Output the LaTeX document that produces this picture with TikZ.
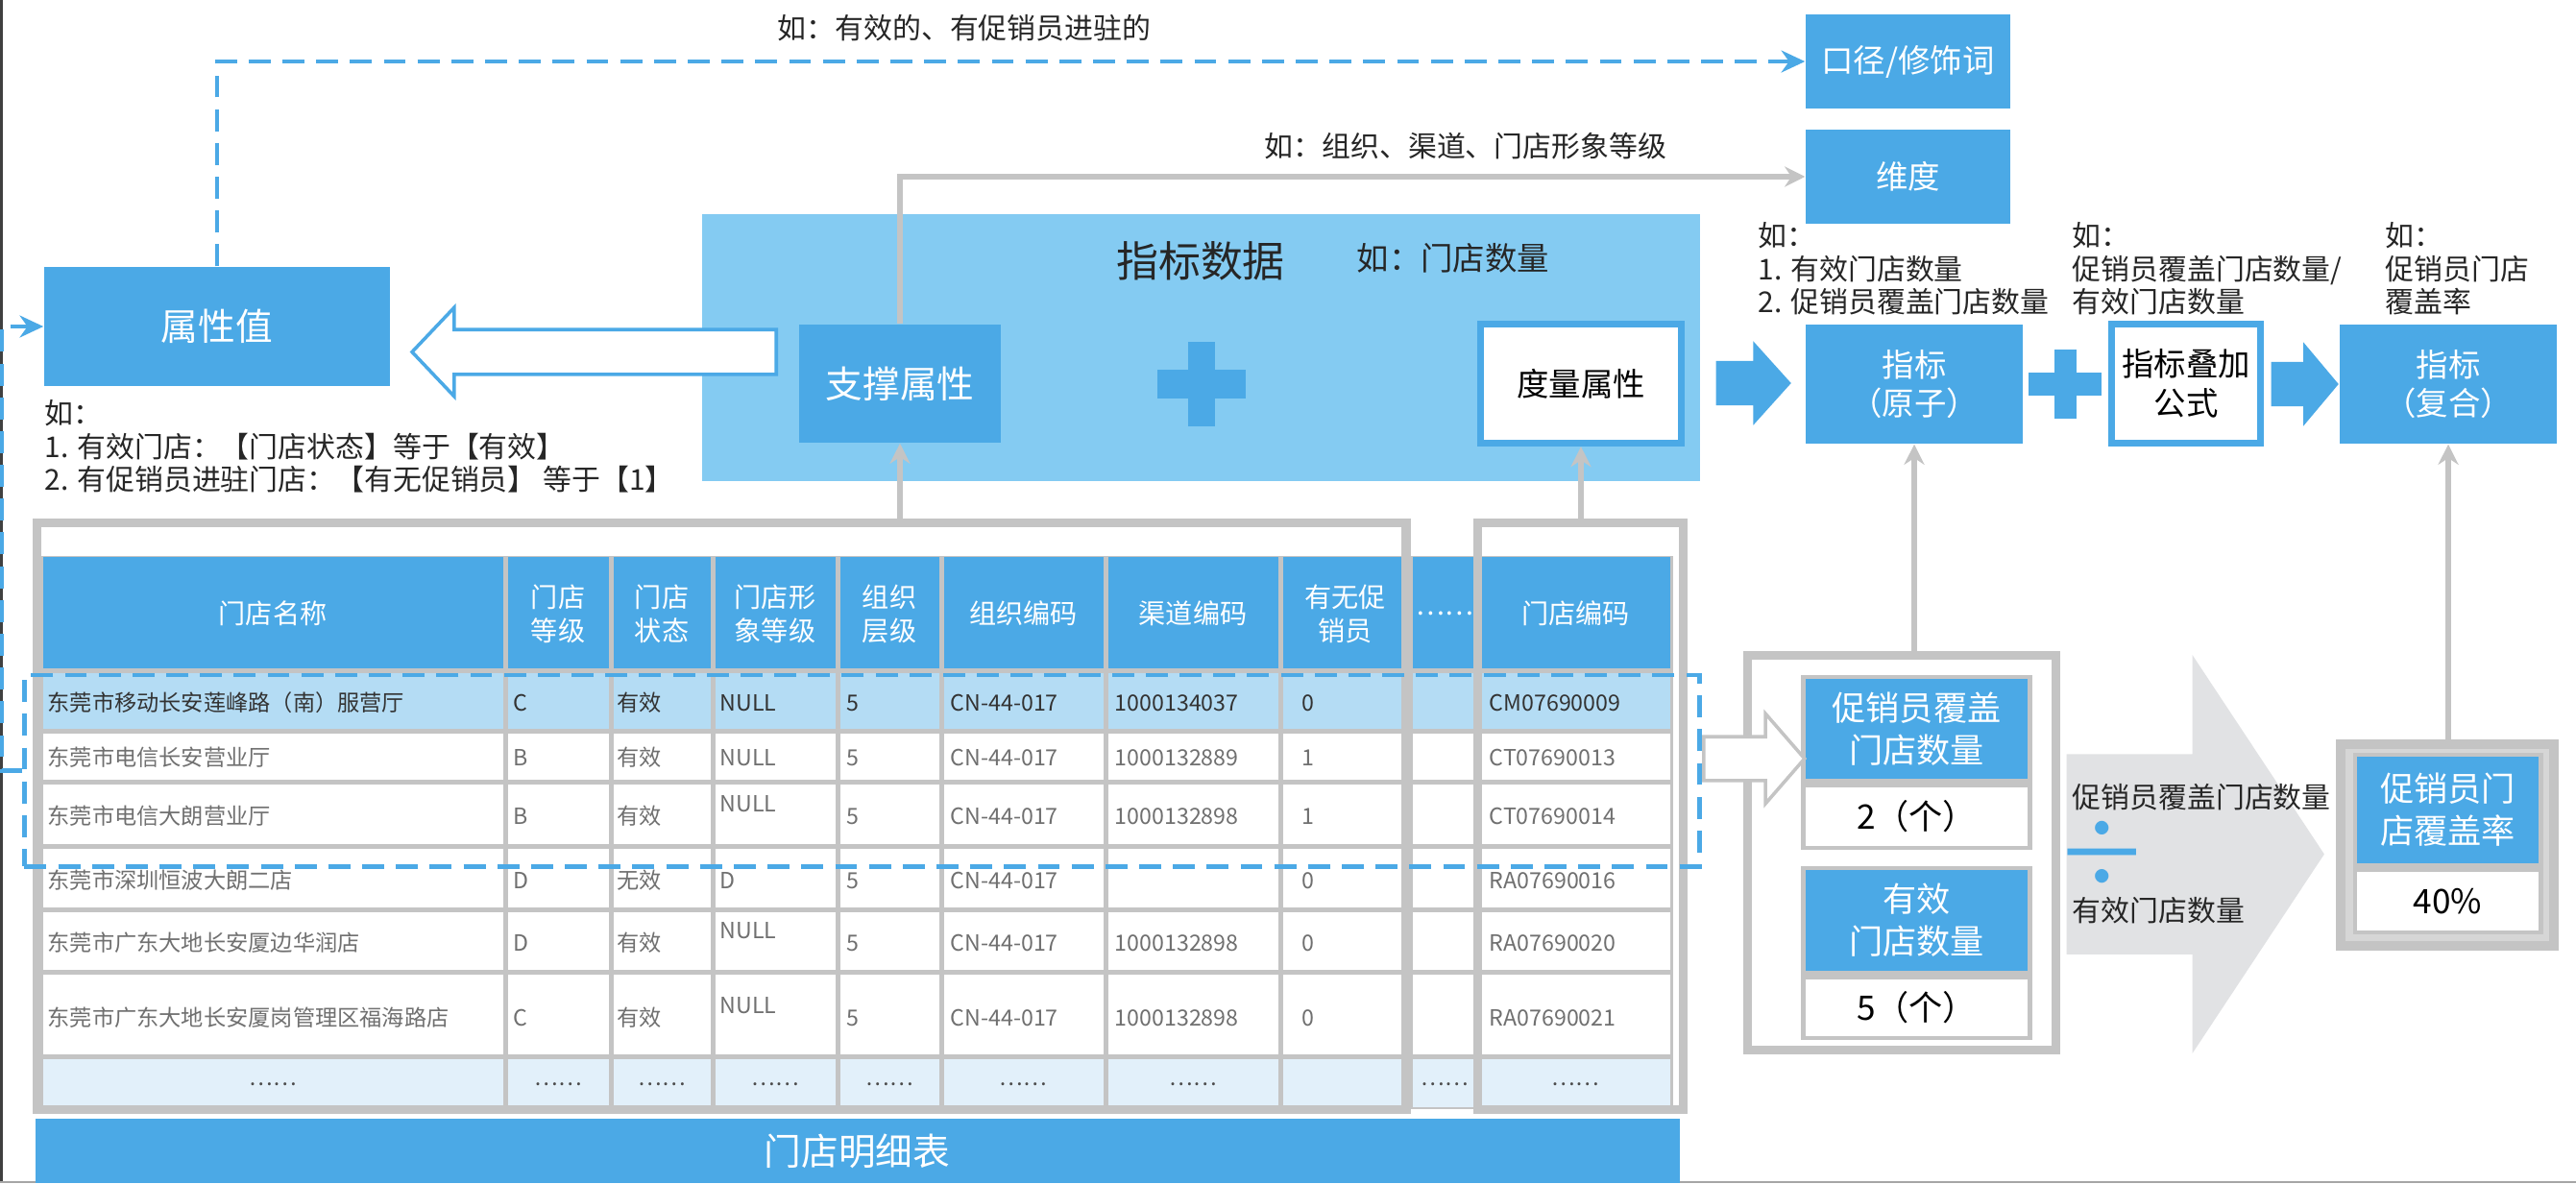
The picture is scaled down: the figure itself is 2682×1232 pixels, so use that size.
\documentclass[tikz,border=0pt]{standalone}
\usepackage{fontspec}
\setmainfont{Noto Sans CJK SC}
\usetikzlibrary{positioning, arrows.meta, shapes.arrows}

\definecolor{mainblue}{HTML}{4BA9E6}
\definecolor{paleblue}{HTML}{84CBF2}
\definecolor{rowblue}{HTML}{B4DCF4}
\definecolor{dotblue}{HTML}{E2F0FA}
\definecolor{framegray}{HTML}{C4C4C4}
\definecolor{arrowgray}{HTML}{E1E2E4}
\definecolor{cellgray}{HTML}{707070}

\begin{document}
\begin{tikzpicture}[
    x=0.01cm, y=-0.01cm, >=Stealth,
    bluebox/.style={rectangle, fill=mainblue, text=white, inner sep=0pt,
                    align=center, font=\fontsize{9.5}{11.5}\selectfont},
    whitebox/.style={rectangle, fill=white, draw=mainblue, line width=2pt,
                     inner sep=0pt, align=center, font=\fontsize{9.5}{11.5}\selectfont},
    countbox/.style={rectangle, fill=mainblue, text=white, draw=framegray,
                     line width=1.4pt, minimum width=2.35cm, inner sep=0pt,
                     align=center, font=\fontsize{10}{12.5}\selectfont},
    valuebox/.style={countbox, fill=white, text=black},
    graybox/.style={rectangle, draw=framegray, line width=2.6pt, inner sep=0pt},
    selbox/.style={rectangle, draw=mainblue, line width=1.4pt,
                   dash pattern=on 6.5pt off 3.5pt, inner sep=0pt},
    note/.style={inner sep=0pt, align=left, text=black!85,
                 font=\fontsize{8.5}{9.8}\selectfont},
    headcell/.style={inner sep=0pt, align=center, text=white,
                     font=\fontsize{8}{10}\selectfont},
    cell/.style={inner sep=0pt, anchor=west, text=cellgray,
                 font=\fontsize{6.6}{8}\selectfont},
    blockarrow/.style={single arrow, inner xsep=0pt, single arrow head indent=0pt, anchor=tail},
    dashline/.style={draw=mainblue, line width=1.4pt, dash pattern=on 6.5pt off 3.5pt,
                     -{Stealth[length=7pt, width=6.5pt]}},
    grayline/.style={draw=framegray, line width=1.8pt, -{Stealth[length=6pt, width=6pt]}},
    plussign/.pic={\fill[mainblue] (-46,-15) rectangle (46,15);
                   \fill[mainblue] (-14,-44) rectangle (14,44);}
]
  \useasboundingbox (0,0) rectangle (2682,1232);
  \fill[white] (0,0) rectangle (2682,1232);
  \draw[black!75, line width=1pt] (1,0) -- (1,1232);
  \draw[black!35, line width=0.6pt] (0,1231) -- (2682,1231);

  % attribute data block
  \node[bluebox, minimum width=3.6cm, minimum height=1.24cm,
        font=\fontsize{11}{13}\selectfont] (attr) at (226,340) {属性值};
  \node[note, anchor=west] (attrnote) at (46,465)
       {如：\\1. 有效门店：【门店状态】等于【有效】\\2. 有促销员进驻门店：【有无促销员】 等于【1】};
  \node[rectangle, fill=paleblue, minimum width=10.39cm, minimum height=2.78cm] (metric) at (1250.5,362) {};
  \node[inner sep=0pt, text=black!85, font=\fontsize{12.5}{14}\selectfont] (metrictitle) at (1250,272) {指标数据};
  \node[note, anchor=west, font=\fontsize{9.5}{11}\selectfont] (metricnote) at (1412,269) {如：门店数量};
  \node[bluebox, minimum width=2.1cm, minimum height=1.23cm,
        font=\fontsize{11}{13}\selectfont] (support) at (937,399.5) {支撑属性};
  \node[whitebox, minimum width=2.09cm, minimum height=1.24cm] (measure) at (1646,399.5) {度量属性};
  \pic at (1251,400) {plussign};
  \node[blockarrow, draw=mainblue, fill=white, line width=1pt, shape border rotate=180,
        minimum height=3.79cm, inner ysep=0.215cm, single arrow head extend=0.23cm,
        single arrow tip angle=93] (attrarr) at (810,366.5) {};

  % indicators
  \node[bluebox, minimum width=2.13cm, minimum height=0.98cm] (caliber) at (1986.5,64) {口径/修饰词};
  \node[bluebox, minimum width=2.13cm, minimum height=0.97cm, below=0.21cm of caliber] (dim) {维度};
  \node[bluebox, minimum width=2.26cm, minimum height=1.24cm] (atom) at (1993,400) {指标\\（原子）};
  \node[whitebox, minimum width=1.55cm, minimum height=1.24cm] (formula) at (2276,399.5) {指标叠加\\公式};
  \node[bluebox, minimum width=2.26cm, minimum height=1.24cm] (comp) at (2549,400) {指标\\（复合）};
  \node[note, anchor=west] (modnote) at (809,29) {如：有效的、有促销员进驻的};
  \node[note, anchor=west] (dimnote) at (1316,152) {如：组织、渠道、门店形象等级};
  \node[note, anchor=west] (atomnote) at (1830,280) {如：\\1. 有效门店数量\\2. 促销员覆盖门店数量};
  \node[note, anchor=west] (formulanote) at (2157,280) {如：\\促销员覆盖门店数量/\\有效门店数量};
  \node[note, anchor=west] (compnote) at (2483,280) {如：\\促销员门店\\覆盖率};
  \node[blockarrow, fill=mainblue, minimum height=0.78cm, inner ysep=0.225cm,
        single arrow head extend=0.205cm, single arrow tip angle=96] (toatom) at (1786,399) {};
  \pic[scale=0.82] at (2150,400) {plussign};
  \node[blockarrow, fill=mainblue, minimum height=0.70cm, inner ysep=0.225cm,
        single arrow head extend=0.205cm, single arrow tip angle=100] (tocomp) at (2364,400) {};

  % store table
  \fill[framegray] (40,579) rectangle (1742,1155);
  \foreach \ya/\yb/\tone in {577/698/mainblue, 698/761/rowblue, 761/814/white, 814/881/white,
                             881/947/white, 947/1012/white, 1012/1100/white, 1100/1155/dotblue}
    \foreach \xa/\xb in {42/526, 526/636, 636/742, 742/872, 872/980, 980/1151,
                         1151/1333, 1333/1468, 1468/1540, 1540/1741}
      \fill[\tone] (\xa+2.5,\ya+2.5) rectangle (\xb-2.5,\yb-2.5);
  \foreach \x/\t [count=\i] in {284/门店名称, 581/门店\\等级, 689/门店\\状态, 807/门店形\\象等级,
                                926/组织\\层级, 1065.5/组织编码, 1242/渠道编码, 1400.5/有无促\\销员,
                                1504/……, 1640.5/门店编码}
    \node[headcell] (h\i) at (\x,639) {\t};
  \foreach \x/\t [count=\i] in {49/东莞市移动长安莲峰路（南）服营厅, 534/C, 642/有效, 749/NULL, 881/5,
                                989/CN-44-017, 1160/1000134037, 1355/0, 1550/CM07690009}
    \node[cell, text=black!80] (ra\i) at (\x,732) {\t};
  \foreach \x/\t [count=\i] in {49/东莞市电信长安营业厅, 534/B, 642/有效, 749/NULL, 881/5,
                                989/CN-44-017, 1160/1000132889, 1355/1, 1550/CT07690013}
    \node[cell] (rb\i) at (\x,789) {\t};
  \foreach \x/\t [count=\i] in {49/东莞市电信大朗营业厅, 534/B, 642/有效, 881/5,
                                989/CN-44-017, 1160/1000132898, 1355/1, 1550/CT07690014}
    \node[cell] (rc\i) at (\x,850) {\t};
  \node[cell] (rcnull) at (749,837) {NULL};
  \foreach \x/\t [count=\i] in {49/东莞市深圳恒波大朗二店, 534/D, 642/无效, 749/D, 881/5,
                                989/CN-44-017, 1355/0, 1550/RA07690016}
    \node[cell] (rd\i) at (\x,917) {\t};
  \foreach \x/\t [count=\i] in {49/东莞市广东大地长安厦边华润店, 534/D, 642/有效, 881/5,
                                989/CN-44-017, 1160/1000132898, 1355/0, 1550/RA07690020}
    \node[cell] (re\i) at (\x,982) {\t};
  \node[cell] (renull) at (749,969) {NULL};
  \foreach \x/\t [count=\i] in {49/东莞市广东大地长安厦岗管理区福海路店, 534/C, 642/有效, 881/5,
                                989/CN-44-017, 1160/1000132898, 1355/0, 1550/RA07690021}
    \node[cell] (rf\i) at (\x,1060) {\t};
  \node[cell] (rfnull) at (749,1047) {NULL};
  \foreach \x [count=\i] in {284, 581, 689, 807, 926, 1065.5, 1242, 1504, 1640.5}
    \node[cell, anchor=center, text=black!70] (rg\i) at (\x,1129) {……};
  \node[graybox, minimum width=14.25cm, minimum height=6.11cm] (tabframe) at (751,850) {};
  \node[graybox, minimum width=2.14cm, minimum height=6.11cm] (codeframe) at (1645.5,850) {};
  \node[selbox, minimum width=17.43cm, minimum height=1.99cm] (sel) at (897.5,802.5) {};
  \node[bluebox, minimum width=17.11cm, minimum height=0.67cm,
        font=\fontsize{11}{13}\selectfont] (tabtitle) at (892.5,1198.5) {门店明细表};

  % worked example
  \node[graybox, fill=white, minimum width=3.21cm, minimum height=4.11cm] (cntframe) at (1980,888) {};
  \node[countbox, minimum height=1.08cm] (promo) at (1995.5,759) {促销员覆盖\\门店数量};
  \node[valuebox, minimum height=0.65cm, below=0pt of promo] (promoval) {2（个）};
  \node[countbox, minimum height=1.09cm] (valid) at (1995.5,958.5) {有效\\门店数量};
  \node[valuebox, minimum height=0.63cm, below=0pt of valid] (validval) {5（个）};
  \node[blockarrow, draw=framegray, fill=white, line width=1pt, minimum height=1.05cm,
        inner ysep=0.21cm, single arrow head extend=0.24cm,
        single arrow tip angle=98] (selarr) at (1772,790) {};
  \node[blockarrow, fill=arrowgray, minimum height=2.68cm, inner ysep=1.035cm,
        single arrow head extend=1.03cm, single arrow tip angle=113] (bigarr) at (2151,889.5) {};
  \node[note, anchor=west] (numer) at (2157,830) {促销员覆盖门店数量};
  \node[inner sep=0pt, text=mainblue, font=\fontsize{28}{28}\selectfont] (divsign) at (2189,890) {÷};
  \node[note, anchor=west] (denom) at (2157,948) {有效门店数量};
  \node[graybox, fill=framegray!70, line width=3pt, minimum width=2.215cm,
        minimum height=2.095cm] (rateframe) at (2548,880) {};
  \node[countbox, minimum width=1.93cm, minimum height=1.15cm] (rate) at (2548.5,843.5) {促销员门\\店覆盖率};
  \node[valuebox, minimum width=1.93cm, minimum height=0.65cm, below=0pt of rate] (rateval) {40\%};

  \draw[dashline] (attr.north) |- (caliber.west);
  \draw[dashline] (sel.west) -- ++(-21,0) |- (attr.west);
  \draw[grayline] (support.north) |- (dim.west);
  \draw[grayline] (support.south |- tabframe.north) -- (support.south);
  \draw[grayline] (measure.south |- codeframe.north) -- (measure.south);
  \draw[grayline] (atom.south |- cntframe.north) -- (atom.south);
  \draw[grayline] (comp.south |- rateframe.north) -- (comp.south);
\end{tikzpicture}
\end{document}
